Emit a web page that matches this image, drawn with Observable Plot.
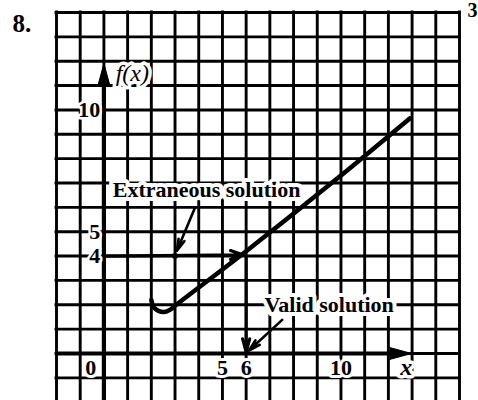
<!DOCTYPE html>
<html>
<head>
<meta charset="utf-8">
<script src="https://cdn.jsdelivr.net/npm/d3@7"></script>
<script src="https://cdn.jsdelivr.net/npm/@observablehq/plot@0.6"></script>
<style>
  html, body { margin: 0; padding: 0; background: #fff; }
  #chart svg { display: block; }
</style>
</head>
<body>
<div id="chart"></div>
<script>
// Graph-paper lines, one unit per square
const gridX = [-2, -1, 0, 1, 2, 3, 4, 5, 6, 7, 8, 9, 10, 11, 12, 13, 14, 15];
const gridY = [-1, 0, 1, 2, 3, 4, 5, 6, 7, 8, 9, 10, 11, 12, 13, 14];

// f(x): a small hook near x = 2, then an almost straight rise
const curveX = [2.0, 2.1, 2.3, 2.55, 2.8, 3.05, 6, 9.8, 12.9];
const curveY = [2.2, 1.9, 1.75, 1.7, 1.8, 2.0, 4.2, 7.15, 9.65];

// Tick labels
const yTickValues = [10, 5, 4];
const xTickValues = [5, 6, 10];
const originLabel = ["0"];

// Solutions of f(x) = 4
const solutionLevel = 4;
const validX = 6;
const extraneousX = 3;

// Annotation texts and their anchors (data units)
const noteText = ["Extraneous solution", "Valid solution"];
const noteX = [4.33, 9.5];
const noteY = [6.72, 1.98];

// Pointer arrows from the notes
const pointerX1 = [3.85, 7.52];
const pointerY1 = [6.0, 1.38];
const pointerX2 = [3.08, 6.12];
const pointerY2 = [4.22, 0.12];

const curve = curveX.map((x, i) => ({x, y: curveY[i]}));
const notes = noteText.map((t, i) => ({t, x: noteX[i], y: noteY[i]}));
const pointers = pointerX1.map((x1, i) => ({x1, y1: pointerY1[i], x2: pointerX2[i], y2: pointerY2[i]}));

const serif = "'Liberation Serif', 'Times New Roman', serif";
const halo = {stroke: "white", fill: "black"};

const chart = Plot.plot({
  width: 478,
  height: 400,
  marginLeft: 56,
  marginRight: 19,
  marginTop: 12,
  marginBottom: 0,
  x: {domain: [-2, 15], axis: null},
  y: {domain: [-1.93, 14], axis: null},
  style: {background: "white", fontFamily: serif, overflow: "visible"},
  marks: [
    // grid
    Plot.ruleX(gridX, {x: d => d, y1: () => -2.2, y2: () => 14, stroke: "black", strokeWidth: 2.9, strokeLinecap: "square"}),
    Plot.ruleY(gridY, {y: d => d, x1: () => -2, x2: () => 15, stroke: "black", strokeWidth: 2.9, strokeLinecap: "square"}),

    // axes with filled arrowheads
    Plot.ruleX([0], {x: d => d, y1: () => -2.2, y2: () => 11.2, stroke: "black", strokeWidth: 4.2}),
    Plot.ruleY([0], {y: d => d, x1: () => -2, x2: () => 12.2, stroke: "black", strokeWidth: 4}),
    Plot.vector([{x: 0, y: 11.0, a: 0}, {x: 12.05, y: 0, a: 90}], {
      x: "x", y: "y", rotate: "a", length: 22, r: 6, shape: "spike", anchor: "start",
      fill: "black", stroke: "black", strokeWidth: 1
    }),

    // tick labels
    Plot.text(yTickValues, {x: () => -0.15, y: d => d, text: d => String(d), textAnchor: "end",
      fontSize: 22, fontWeight: "bold", ...halo, strokeWidth: 5}),
    Plot.text(xTickValues, {x: d => d, y: () => -0.58, text: d => String(d),
      fontSize: 22, fontWeight: "bold", ...halo, strokeWidth: 6}),
    Plot.text(originLabel, {x: () => -0.55, y: () => -0.58, text: d => d,
      fontSize: 22, fontWeight: "bold", ...halo, strokeWidth: 6}),
    Plot.text(["x"], {x: () => 12.75, y: () => -0.55, text: d => d,
      fontSize: 24, fontStyle: "italic", fontWeight: "bold", ...halo, strokeWidth: 7}),
    Plot.text(["f(x)"], {x: () => 1.2, y: () => 11.5, text: d => d,
      fontSize: 24, fontStyle: "italic", ...halo, strokeWidth: 7}),

    // horizontal line f(x) = 4 and the drop to the valid solution
    Plot.arrow([solutionLevel], {x1: () => 0, y1: d => d, x2: () => validX - 0.15, y2: d => d + 0.05,
      stroke: "black", strokeWidth: 3.2, headLength: 6, headAngle: 40}),
    Plot.arrow([validX], {x1: d => d, y1: () => solutionLevel, x2: d => d, y2: () => 0.05,
      stroke: "black", strokeWidth: 3, headLength: 7, headAngle: 30}),

    // the curve
    Plot.line(curve, {x: "x", y: "y", curve: "catmull-rom", stroke: "black", strokeWidth: 4.5, strokeLinecap: "round"}),

    // extraneous point on y = 4
    Plot.dot([extraneousX], {x: d => d, y: () => solutionLevel, r: 3, fill: "black"}),

    // notes with pointer arrows
    Plot.text(notes, {x: "x", y: "y", text: "t", fontSize: 22, fontWeight: "bold", ...halo, strokeWidth: 8}),
    Plot.arrow(pointers, {x1: "x1", y1: "y1", x2: "x2", y2: "y2",
      stroke: "black", strokeWidth: 2.6, headLength: 7, headAngle: 30}),

    // exercise number and page marker
    Plot.text(["8."], {frameAnchor: "top-left", dx: -44, dy: 19, text: d => d, textAnchor: "start", lineAnchor: "bottom",
      fontSize: 25, fontWeight: "bold", fill: "black"}),
    Plot.text(["3"], {frameAnchor: "top-right", dx: 8, dy: 4, text: d => d, textAnchor: "start", lineAnchor: "bottom",
      fontSize: 20, fontWeight: "bold", fill: "black"})
  ]
});

document.getElementById("chart").appendChild(chart);
</script>
</body>
</html>
